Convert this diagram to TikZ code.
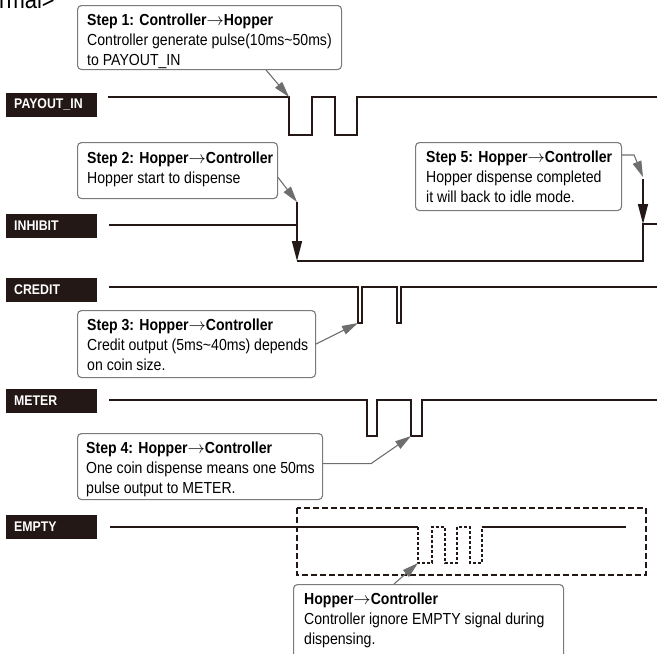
\documentclass[tikz,border=0pt]{standalone}
\usepackage{fontspec}
\setmainfont{Liberation Sans}[FakeStretch=0.88]
\usepackage[dvipsnames,svgnames]{xcolor}
\usetikzlibrary{arrows.meta}
\definecolor{sigink}{HTML}{231815}
\definecolor{boxline}{HTML}{7A7A7A}
\definecolor{callgray}{HTML}{6E6E6E}
\newcommand{\dirto}{$\rightarrow$}

\begin{document}
\begin{tikzpicture}[x=1pt,y=-1pt,
  siglabel/.style={fill=sigink,text=white,anchor=north west,minimum height=23.5pt,
    text width=75pt,inner xsep=8pt,inner ysep=0pt,align=left,
    font=\fontsize{14}{16}\selectfont\bfseries},
  wave/.style={draw=sigink,line width=1.6pt},
  stepbox/.style={draw=boxline,line width=1.1pt,rounded corners=4pt,anchor=north west,
    inner sep=0pt},
  steptext/.style={anchor=north west,inner sep=0pt,align=left,
    font=\fontsize{16}{20}\selectfont},
  callout/.style={draw=callgray,line width=1.1pt,-{Triangle[length=16pt,width=9pt]}},
  bigtip/.style={-{Triangle[length=20pt,width=10pt]}}]

\useasboundingbox (0,0) rectangle (657,654);

% heading, cut by the page
\node[anchor=base east,inner sep=0pt,font=\fontsize{25}{30}\selectfont] (head) at (55,8) {rmal>};

% signal names
\foreach \nm/\txt/\ty in {pay/PAYOUT\_IN/93,inh/INHIBIT/214,cre/CREDIT/278,met/METER/389,emp/EMPTY/515}
  \node[siglabel] (\nm) at (6,\ty) {\txt};

% PAYOUT_IN
\draw[wave] (108,97) -- (289,97) -- (289,135) -- (312,135) -- (312,97) -- (335,97)
  -- (335,135) -- (357,135) -- (357,97) -- (657,97);
\coordinate (p1) at (289,97);

% INHIBIT
\coordinate (i1) at (297,202);
\coordinate (i4) at (643,179);
\draw[wave] (109,225) -- (297,225);
\draw[wave,bigtip] (i1) -- (297,261);
\draw[wave] (297,261) -- (643,261) -- (643,224) -- (657,224);
\draw[wave,bigtip] (i4) -- (643,224);

% CREDIT
\draw[wave] (109,287) -- (358,287) -- (358,323) -- (362,323) -- (362,287) -- (397,287)
  -- (397,323) -- (401,323) -- (401,287) -- (657,287);
\coordinate (c1) at (358,323);

% METER
\draw[wave] (109,400) -- (367,400) -- (367,436) -- (377,436) -- (377,400) -- (411,400)
  -- (411,436) -- (422,436) -- (422,400) -- (657,400);
\coordinate (m2) at (411,436);

% EMPTY
\draw[wave] (110,527) -- (418,527);
\draw[wave] (482,527) -- (626,527);
\draw[sigink,line width=1.2pt,dash pattern=on 3pt off 2pt] (418,527) -- (418,563)
  -- (432,563) -- (432,527) -- (445,527) -- (445,563) -- (457,563) -- (457,527)
  -- (470,527) -- (470,563) -- (482,563) -- (482,527);
\coordinate (e1) at (418,563);
\draw[sigink,line width=2pt,dash pattern=on 6pt off 3pt] (297,508) rectangle (646,575);

% step boxes
\node[stepbox,minimum width=264pt,minimum height=64pt] (s1) at (77,5) {};
\node[steptext] (t1) at ([shift={(10,8)}]s1.north west)
  {\rule{0pt}{12pt}\textbf{Step 1: Controller\dirto Hopper}\\
   Controller generate pulse(10ms\textasciitilde50ms)\\to PAYOUT\_IN};

\node[stepbox,minimum width=200pt,minimum height=56pt] (s2) at (77,142) {};
\node[steptext] (t2) at ([shift={(10,9)}]s2.north west)
  {\rule{0pt}{12pt}\textbf{Step 2: Hopper\dirto Controller}\\Hopper start to dispense};

\node[stepbox,minimum width=238pt,minimum height=67pt] (s3) at (77,310) {};
\node[steptext] (t3) at ([shift={(10,8)}]s3.north west)
  {\rule{0pt}{12pt}\textbf{Step 3: Hopper\dirto Controller}\\
   Credit output (5ms\textasciitilde40ms) depends\\on coin size.};

\node[stepbox,minimum width=245pt,minimum height=66pt] (s4) at (77,433) {};
\node[steptext] (t4) at ([shift={(9,8)}]s4.north west)
  {\rule{0pt}{12pt}\textbf{Step 4: Hopper\dirto Controller}\\
   One coin dispense means one 50ms\\pulse output to METER.};

\node[stepbox,minimum width=206pt,minimum height=68pt] (s5) at (415,142) {};
\node[steptext] (t5) at ([shift={(11,8)}]s5.north west)
  {\rule{0pt}{12pt}\textbf{Step 5: Hopper\dirto Controller}\\
   Hopper dispense completed\\it will back to idle mode.};

\node[stepbox,minimum width=270pt,minimum height=80pt] (s6) at (293,584) {};
\node[steptext] (t6) at ([shift={(11,8)}]s6.north west)
  {\rule{0pt}{12pt}\textbf{Hopper\dirto Controller}\\
   Controller ignore EMPTY signal during\\dispensing.};

% callouts
\draw[callout] ([xshift=-76pt]s1.south east) -- (p1);
\draw[callout] ([yshift=-7pt]s2.east) -- (i1);
\draw[callout] (s3.east) -- (c1);
\draw[callout] ([yshift=3pt]s4.east) -- ++(48,0) -- (m2);
\draw[callout] ([yshift=-13pt]s5.north east) -- ++(12,0) -- ([yshift=2pt]i4);
\draw[callout] ([xshift=101pt]s6.north west) -- (e1);

\end{tikzpicture}
\end{document}
